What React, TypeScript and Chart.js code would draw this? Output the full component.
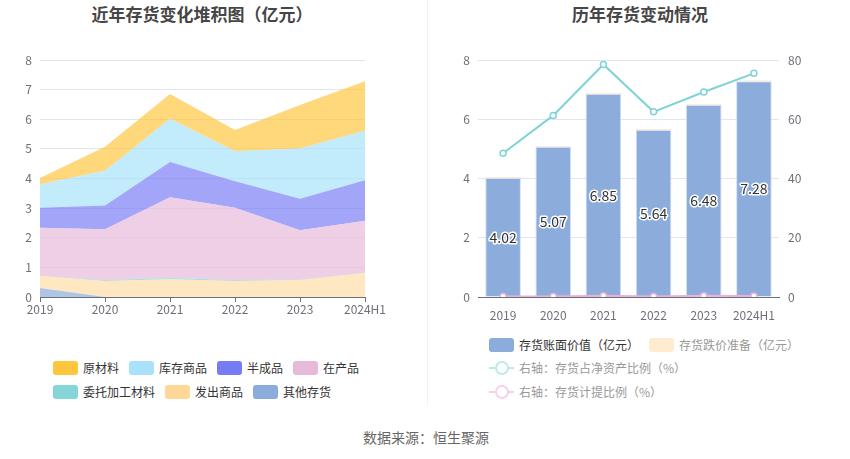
import React, { useEffect, useRef } from "react";
import { Chart, registerables } from "chart.js";

Chart.register(...registerables);

const years = ["2019", "2020", "2021", "2022", "2023", "2024H1"];

// Stacked area series (亿元), bottom to top
const otherInv = [0.3, 0.0, 0.0, 0.0, 0.0, 0.0];
const shipped = [0.41, 0.54, 0.6, 0.54, 0.57, 0.81];
const consigned = [0.0, 0.03, 0.04, 0.03, 0.02, 0.01];
const wip = [1.63, 1.72, 2.73, 2.44, 1.66, 1.75];
const semiFinished = [0.67, 0.8, 1.19, 0.9, 1.07, 1.37];
const finishedGoods = [0.8, 1.17, 1.46, 1.01, 1.69, 1.67];
const rawMaterial = [0.21, 0.81, 0.83, 0.72, 1.47, 1.67];

// Right chart
const bookValue = [4.02, 5.07, 6.85, 5.64, 6.48, 7.28];
const impairment = [0.02, 0.02, 0.03, 0.02, 0.03, 0.03];
const netAssetRatio = [48.5, 61.3, 78.5, 62.5, 69.2, 75.5];
const provisionRatio = [0.2, 0.2, 0.4, 0.2, 0.4, 0.3];

const FONT = "'Noto Sans CJK SC', 'Noto Sans', sans-serif";
const TICK = "#6e7079";
const GRID = "#e0e6f1";

const leftLegend = [
  [
    { label: "原材料", color: "#ffc53d" },
    { label: "库存商品", color: "#a8e2fb" },
    { label: "半成品", color: "#787cf4" },
    { label: "在产品", color: "#e8bada" },
  ],
  [
    { label: "委托加工材料", color: "#86d5d8" },
    { label: "发出商品", color: "#ffd897" },
    { label: "其他存货", color: "#8caddb" },
  ],
];

const labelPlugin = {
  id: "barLabels",
  afterDatasetsDraw(chart: any) {
    const meta = chart.getDatasetMeta(0);
    const ctx = chart.ctx;
    ctx.save();
    ctx.font = `14px ${FONT}`;
    ctx.textAlign = "center";
    ctx.textBaseline = "middle";
    meta.data.forEach((el: any, i: number) => {
      const txt = bookValue[i].toFixed(2);
      const y = (el.y + el.base) / 2;
      ctx.lineWidth = 3;
      ctx.strokeStyle = "#ffffff";
      ctx.lineJoin = "round";
      ctx.strokeText(txt, el.x, y);
      ctx.fillStyle = "#333333";
      ctx.fillText(txt, el.x, y);
    });
    ctx.restore();
  },
};

function LeftChart() {
  const ref = useRef<HTMLCanvasElement>(null);
  useEffect(() => {
    const mk = (label: string, data: number[], color: string, first = false) => ({
      label,
      data,
      backgroundColor: color,
      borderWidth: 0,
      pointRadius: 0,
      fill: first ? "origin" : "-1",
      tension: 0,
    });
    const chart = new Chart(ref.current!, {
      type: "line",
      data: {
        labels: years,
        datasets: [
          mk("其他存货", otherInv, "rgba(140,173,219,0.7)", true),
          mk("发出商品", shipped, "rgba(255,216,151,0.6)"),
          mk("委托加工材料", consigned, "rgba(134,213,216,0.7)"),
          mk("在产品", wip, "rgba(232,186,218,0.7)"),
          mk("半成品", semiFinished, "rgba(120,124,244,0.68)"),
          mk("库存商品", finishedGoods, "rgba(168,226,251,0.7)"),
          mk("原材料", rawMaterial, "rgba(255,197,61,0.68)"),
        ] as any,
      },
      options: {
        animation: false,
        responsive: false,
        layout: { padding: { top: 20, right: 35, left: 0, bottom: 0 } },
        plugins: { legend: { display: false }, tooltip: { enabled: false } },
        scales: {
          x: {
            offset: false,
            grid: { drawOnChartArea: false, drawTicks: true, tickLength: 5, color: TICK },
            border: { color: TICK },
            ticks: { color: TICK, font: { size: 12, family: FONT }, padding: 0, maxRotation: 0, autoSkip: false },
            afterFit: (s: any) => { s.height = 23; },
          },
          y: {
            stacked: true,
            min: 0,
            max: 8,
            ticks: { stepSize: 1, color: TICK, font: { size: 12, family: FONT }, padding: 8 },
            grid: { color: GRID, drawTicks: false },
            border: { display: false },
            afterFit: (s: any) => { s.width = 40; },
          },
        },
      },
    });
    return () => chart.destroy();
  }, []);
  return <canvas ref={ref} width={400} height={280} style={{ position: "absolute", left: 0, top: 40, width: 400, height: 280 }} />;
}

function RightChart() {
  const ref = useRef<HTMLCanvasElement>(null);
  useEffect(() => {
    const chart = new Chart(ref.current!, {
      type: "bar",
      data: {
        labels: years,
        datasets: [
          {
            type: "bar",
            label: "存货账面价值（亿元）",
            data: bookValue,
            backgroundColor: "#8caddb",
            borderColor: "#d3dff2",
            borderWidth: 1,
            barPercentage: 0.71,
            categoryPercentage: 1,
            stack: "s",
            yAxisID: "y",
            order: 2,
          },
          {
            type: "bar",
            label: "存货跌价准备（亿元）",
            data: impairment,
            backgroundColor: "#ffe6c4",
            borderWidth: 0,
            barPercentage: 0.71,
            categoryPercentage: 1,
            stack: "s",
            yAxisID: "y",
            order: 2,
          },
          {
            type: "line",
            label: "右轴：存货占净资产比例（%）",
            data: netAssetRatio,
            borderColor: "#7fd3d6",
            borderWidth: 2,
            pointRadius: 3,
            pointBackgroundColor: "#ffffff",
            pointBorderColor: "#7fd3d6",
            pointBorderWidth: 1.5,
            yAxisID: "y1",
            order: 0,
          },
          {
            type: "line",
            label: "右轴：存货计提比例（%）",
            data: provisionRatio,
            borderColor: "#e8b3d7",
            borderWidth: 2,
            pointRadius: 3,
            pointBackgroundColor: "#ffffff",
            pointBorderColor: "#e8b3d7",
            pointBorderWidth: 1.5,
            yAxisID: "y1",
            order: 0,
          },
        ] as any,
      },
      options: {
        animation: false,
        responsive: false,
        layout: { padding: { top: 20, right: 0, left: 0, bottom: 0 } },
        plugins: { legend: { display: false }, tooltip: { enabled: false } },
        scales: {
          x: {
            stacked: true,
            offset: true,
            grid: { display: false },
            border: { color: TICK },
            ticks: { color: TICK, font: { size: 12, family: FONT }, padding: 3, maxRotation: 0, autoSkip: false },
            afterFit: (s: any) => { s.height = 23; },
          },
          y: {
            stacked: true,
            position: "left",
            min: 0,
            max: 8,
            ticks: { stepSize: 2, color: TICK, font: { size: 12, family: FONT }, padding: 8 },
            grid: { color: GRID, drawTicks: false },
            border: { display: false },
            afterFit: (s: any) => { s.width = 48; },
          },
          y1: {
            stacked: false,
            position: "right",
            min: 0,
            max: 80,
            ticks: { stepSize: 20, color: TICK, font: { size: 12, family: FONT }, padding: 9 },
            grid: { drawOnChartArea: false, drawTicks: false },
            border: { display: false },
            afterFit: (s: any) => { s.width = 71; },
          },
        },
      },
      plugins: [labelPlugin],
    });
    return () => chart.destroy();
  }, []);
  return <canvas ref={ref} width={420} height={280} style={{ position: "absolute", left: 430, top: 40, width: 420, height: 280 }} />;
}

const legendText: React.CSSProperties = { fontSize: 12, lineHeight: "14px", whiteSpace: "nowrap" };

function Swatch({ color }: { color: string }) {
  return <span style={{ display: "inline-block", width: 25, height: 14, borderRadius: 3, background: color, marginRight: 5 }} />;
}

function LineIcon({ color }: { color: string }) {
  return (
    <span style={{ position: "relative", display: "inline-block", width: 25, height: 14, marginRight: 5 }}>
      <span style={{ position: "absolute", left: 0, top: 6, width: 25, height: 2, background: color }} />
      <span style={{ position: "absolute", left: 6, top: 0, width: 10, height: 10, borderRadius: "50%", border: `2px solid ${color}`, background: "#fff" }} />
    </span>
  );
}

export default function App() {
  useEffect(() => {
    document.body.style.margin = "0";
  }, []);
  return (
    <div style={{ position: "relative", width: 850, height: 459, background: "#fff", fontFamily: FONT, overflow: "hidden" }}>
      <div style={{ position: "absolute", left: 0, width: 404, top: 3, textAlign: "center", fontSize: 17, fontWeight: "bold", color: "#464646", lineHeight: "22px" }}>
        近年存货变化堆积图（亿元）
      </div>
      <div style={{ position: "absolute", left: 430, width: 420, top: 3, textAlign: "center", fontSize: 17, fontWeight: "bold", color: "#464646", lineHeight: "22px" }}>
        历年存货变动情况
      </div>
      <div style={{ position: "absolute", left: 427, top: 0, width: 1, height: 405, background: "#f0f0f0" }} />
      <LeftChart />
      <RightChart />
      {leftLegend.map((row, ri) => (
        <div key={ri} style={{ position: "absolute", left: 53, top: 361 + ri * 24, display: "flex", alignItems: "center" }}>
          {row.map((it) => (
            <span key={it.label} style={{ display: "flex", alignItems: "center", marginRight: 10 }}>
              <Swatch color={it.color} />
              <span style={{ ...legendText, color: "#333" }}>{it.label}</span>
            </span>
          ))}
        </div>
      ))}
      <div style={{ position: "absolute", left: 489, top: 338, display: "flex", alignItems: "center" }}>
        <span style={{ display: "flex", alignItems: "center", marginRight: 10 }}>
          <Swatch color="#8caddb" />
          <span style={{ ...legendText, color: "#333" }}>存货账面价值（亿元）</span>
        </span>
        <span style={{ display: "flex", alignItems: "center" }}>
          <Swatch color="#ffebcf" />
          <span style={{ ...legendText, color: "#999" }}>存货跌价准备（亿元）</span>
        </span>
      </div>
      <div style={{ position: "absolute", left: 489, top: 361, display: "flex", alignItems: "center" }}>
        <LineIcon color="#bfe9ea" />
        <span style={{ ...legendText, color: "#999" }}>右轴：存货占净资产比例（%）</span>
      </div>
      <div style={{ position: "absolute", left: 489, top: 385, display: "flex", alignItems: "center" }}>
        <LineIcon color="#f3d3e9" />
        <span style={{ ...legendText, color: "#999" }}>右轴：存货计提比例（%）</span>
      </div>
      <div style={{ position: "absolute", left: 0, width: 852, top: 428, textAlign: "center", fontSize: 14, color: "#666", lineHeight: "18px" }}>
        数据来源：恒生聚源
      </div>
    </div>
  );
}
